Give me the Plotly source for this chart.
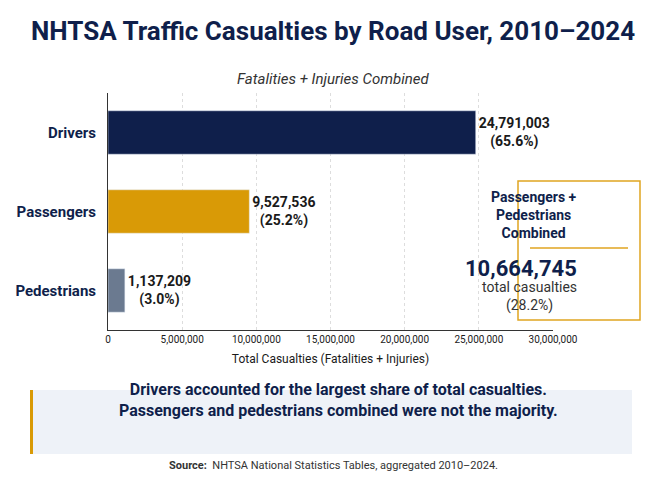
import plotly.graph_objects as go

categories = ["Drivers", "Passengers", "Pedestrians"]
values = [24791003, 9527536, 1137209]
shares = ["65.6%", "25.2%", "3.0%"]
colors = ["#0f1f4b", "#d99a06", "#6b7a90"]
tick_vals = [0, 5000000, 10000000, 15000000, 20000000, 25000000, 30000000]
tick_text = ["0", "5,000,000", "10,000,000", "15,000,000", "20,000,000", "25,000,000", "30,000,000"]
combined_total = 10664745
combined_share = "28.2%"

navy = "#0f1f4b"
fig = go.Figure(go.Bar(
    y=categories, x=values, orientation="h",
    marker=dict(color=colors),
    text=[f"<b>{v:,}<br>({s})</b>" for v, s in zip(values, shares)],
    textposition="outside", textfont=dict(size=14, color="#1a1a1a", family="Roboto"),
    cliponaxis=False, width=0.55,
))
fig.update_layout(
    width=650, height=485, margin=dict(l=0, r=0, t=0, b=0, autoexpand=False),
    plot_bgcolor="white", paper_bgcolor="white", showlegend=False,
    font=dict(family="Roboto", color="#1a1a1a"),
    title=dict(text="<b>NHTSA Traffic Casualties by Road User, 2010–2024</b>", x=0.5, y=1-14/485,
               xanchor="center", yanchor="top", font=dict(size=26, color=navy, family="Roboto")),
    xaxis=dict(range=[0, 30000000], tickvals=tick_vals, ticktext=tick_text, tickfont=dict(size=10),
               showgrid=True, gridcolor="#dddddd", griddash="dot", zeroline=False,
               showline=True, linecolor="#333", ticks="", domain=[100/650, 545/650],
               title=dict(text="Total Casualties (Fatalities + Injuries)", font=dict(size=12), standoff=10)),
    yaxis=dict(categoryorder="array", categoryarray=categories[::-1], showline=True, linecolor="#333",
               tickfont=dict(size=15, color=navy, family="Roboto"), ticks="", ticklabelstandoff=8,
               ticktext=[f"<b>{c}</b>" for c in categories], tickvals=categories,
               domain=[1-322/485, 1-85/485]),
    bargap=0.4,
)

def A(text, px, py, size, color="#1a1a1a", **kw):
    fig.add_annotation(text=text, x=px/650, y=1-py/485, xref="paper", yref="paper", showarrow=False,
                       font=dict(size=size, color=color, family="Roboto"), **kw)

A("<i>Fatalities + Injuries Combined</i>", 325, 60, 15, "#333")
fig.add_shape(type="rect", xref="paper", yref="paper", x0=510/650, x1=632/650, y0=1-312/485, y1=1-173/485,
              line=dict(color="#e0a520", width=1.5), fillcolor="white", layer="above")
fig.add_shape(type="line", xref="paper", yref="paper", x0=522/650, x1=620/650, y0=1-240/485, y1=1-240/485,
              line=dict(color="#e0a520", width=1.5), layer="above")
A("<b>Passengers +<br>Pedestrians<br>Combined</b>", 571, 207, 14, navy)
A(f"<b>{combined_total:,}</b>", 571, 260, 22, navy)
A(f"total casualties<br>({combined_share})", 571, 288, 14, "#333")
fig.add_shape(type="rect", xref="paper", yref="paper", x0=22/650, x1=624/650, y0=1-446/485, y1=1-382/485,
              line=dict(width=0), fillcolor="#eef2f8")
fig.add_shape(type="rect", xref="paper", yref="paper", x0=22/650, x1=25/650, y0=1-446/485, y1=1-382/485,
              line=dict(width=0), fillcolor="#d99a06")
A("<b>Drivers accounted for the largest share of total casualties.<br>Passengers and pedestrians combined were not the majority.</b>",
  330, 414, 16, navy)
A("<b>Source:</b>  NHTSA National Statistics Tables, aggregated 2010–2024.", 325, 466, 11, "#333")
fig.write_html("out.html")
